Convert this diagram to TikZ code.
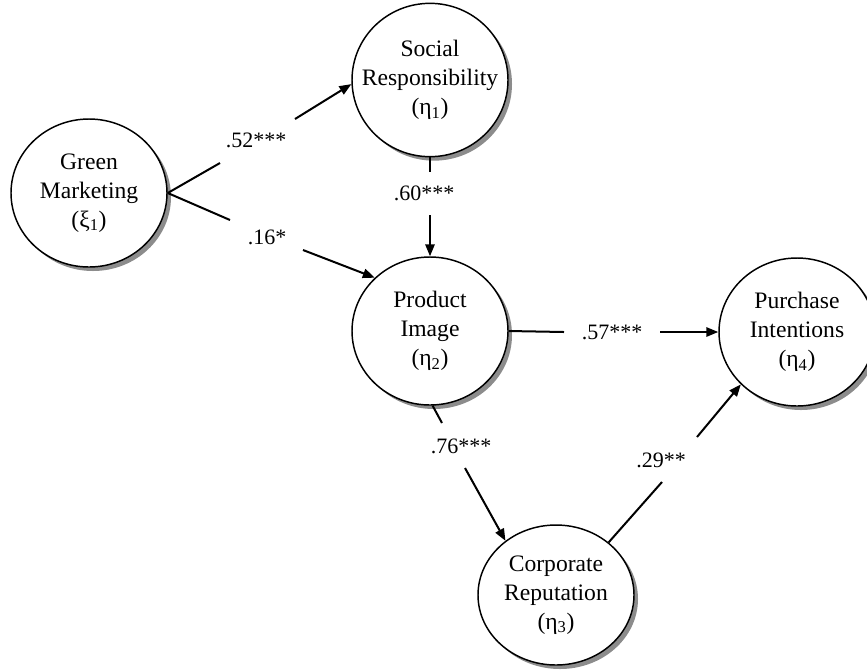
\documentclass[tikz,border=0pt]{standalone}
\usepackage{fontspec}
\setmainfont{Liberation Serif}
\usetikzlibrary{arrows.meta,shapes.geometric,shadows}
\begin{document}
\begin{tikzpicture}[x=0.75pt,y=-0.75pt,
  latent/.style={ellipse,draw,line width=1.1pt,fill=white,minimum width=117pt,minimum height=111pt,inner sep=0pt,
    drop shadow={shadow xshift=3pt,shadow yshift=-3pt,fill=black!45,opacity=1},
    label={[align=center,inner sep=0pt,font=\fontsize{17.7}{21.75}\selectfont]center:#1}},
  conn/.style={line width=1.5pt},
  arr/.style={conn,-{Triangle[length=9pt,width=7pt]}},
  coef/.style={font=\fontsize{16.5}{20}\selectfont,inner sep=0pt}]
\useasboundingbox (0,0) rectangle (867,669);

\node[latent={Green\\Marketing\\(ξ\textsubscript{1})}] (gm) at (89,193) {};
\node[latent={Social\\Responsibility\\(η\textsubscript{1})},minimum height=115pt] (sr) at (430,80) {};
\node[latent={Product\\Image\\(η\textsubscript{2})}] (pi) at (430,331) {};
\node[latent={Purchase\\Intentions\\(η\textsubscript{4})}] (pu) at (797,332) {};
\node[latent={Corporate\\Reputation\\(η\textsubscript{3})},minimum height=105pt] (cr) at (556,595) {};

% gap end points
\coordinate (c1) at (220,163);
\coordinate (c2) at (295,119);
\coordinate (c3) at (230,220);
\coordinate (c4) at (303,250);
\coordinate (c5) at (430,172);
\coordinate (c6) at (430,215);
\coordinate (c7) at (564,332);
\coordinate (c8) at (660,332);
\coordinate (c9) at (442,423);
\coordinate (c10) at (465,468);
\coordinate (c11) at (662,482);
\coordinate (c12) at (697,437);

\draw[conn] (gm.east) -- (c1);
\draw[arr] (c2) -- (sr.183);
\draw[conn] (gm.east) -- (c3);
\draw[arr] (c4) -- (pi.136);
\draw[conn] (sr.south) -- (c5);
\draw[arr] (c6) -- (pi.north);
\draw[conn] (pi.east) -- (c7);
\draw[arr] (c8) -- (pu.west);
\draw[conn] (pi.272) -- (c9);
\draw[arr] (c10) -- (cr.133);
\draw[conn] (cr.45) -- (c11);
\draw[arr] (c12) -- (pu.223);

\node[coef] (l1) at (256,140) {.52***};
\node[coef] (l2) at (267,237) {.16*};
\node[coef] (l3) at (424,193) {.60***};
\node[coef] (l4) at (461,446) {.76***};
\node[coef] (l5) at (612,332) {.57***};
\node[coef] (l6) at (661,460) {.29**};
\end{tikzpicture}
\end{document}
